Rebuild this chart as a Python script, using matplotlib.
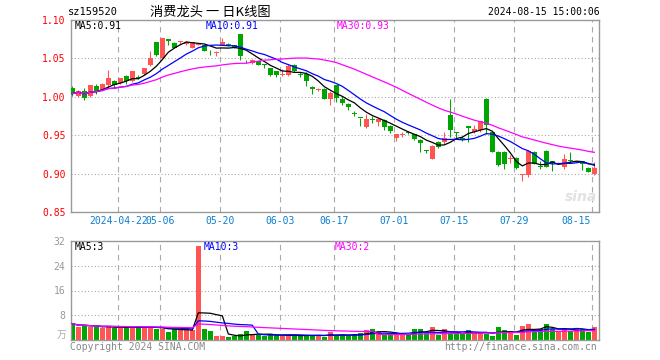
import numpy as np
import pandas as pd
import matplotlib
matplotlib.use("Agg")
import matplotlib.pyplot as plt
from matplotlib.transforms import blended_transform_factory

# ---- data (159520, daily, 2024-04-10 .. 2024-08-15) ----
opens = [
    1.012, 1.001, 1.008, 1.001, 1.014, 1.009, 1.015, 1.021, 1.018, 1.027,
    1.021, 1.026, 1.030, 1.041, 1.071, 1.050, 1.075, 1.070, 1.071, 1.069,
    1.064, 1.068, 1.068, 1.060, 1.057, 1.067, 1.069, 1.067, 1.082, 1.047,
    1.044, 1.047, 1.042, 1.037, 1.033, 1.028, 1.029, 1.041, 1.029, 1.030,
    1.013, 1.009, 1.010, 0.997, 1.015, 0.997, 0.991, 0.979, 0.973, 0.961,
    0.971, 0.967, 0.970, 0.962, 0.947, 0.950, 0.954, 0.951, 0.944, 0.930,
    0.919, 0.941, 0.941, 0.976, 0.954, 0.947, 0.962, 0.954, 0.957, 0.997,
    0.954, 0.928, 0.928, 0.919, 0.920, 0.898, 0.898, 0.928, 0.910, 0.930,
    0.916, 0.913, 0.908, 0.918, 0.915, 0.916, 0.907, 0.899]
closes = [
    1.004, 1.008, 0.998, 1.015, 1.008, 1.017, 1.025, 1.015, 1.024, 1.021,
    1.033, 1.025, 1.037, 1.050, 1.054, 1.076, 1.073, 1.064, 1.072, 1.072,
    1.071, 1.069, 1.060, 1.059, 1.058, 1.072, 1.068, 1.064, 1.053, 1.046,
    1.048, 1.042, 1.041, 1.028, 1.028, 1.029, 1.040, 1.034, 1.028, 1.021,
    1.010, 1.010, 0.997, 1.005, 0.999, 0.992, 0.987, 0.978, 0.972, 0.971,
    0.970, 0.971, 0.961, 0.955, 0.952, 0.951, 0.953, 0.945, 0.940, 0.929,
    0.936, 0.935, 0.947, 0.957, 0.953, 0.945, 0.959, 0.958, 0.968, 0.963,
    0.928, 0.911, 0.913, 0.920, 0.907, 0.899, 0.930, 0.913, 0.909, 0.909,
    0.915, 0.914, 0.919, 0.917, 0.916, 0.912, 0.902, 0.907]
highs = [
    1.014, 1.009, 1.011, 1.016, 1.017, 1.018, 1.035, 1.022, 1.025, 1.029,
    1.034, 1.028, 1.038, 1.059, 1.072, 1.077, 1.075, 1.071, 1.073, 1.073,
    1.072, 1.070, 1.069, 1.061, 1.060, 1.076, 1.070, 1.068, 1.082, 1.048,
    1.049, 1.048, 1.043, 1.038, 1.033, 1.036, 1.043, 1.043, 1.032, 1.032,
    1.014, 1.011, 1.011, 1.008, 1.016, 1.001, 0.992, 0.982, 0.973, 0.978,
    0.975, 0.972, 0.971, 0.963, 0.952, 0.954, 0.955, 0.952, 0.945, 0.931,
    0.937, 0.943, 0.954, 0.997, 0.954, 0.949, 0.962, 0.963, 0.968, 0.998,
    0.955, 0.929, 0.929, 0.924, 0.921, 0.899, 0.931, 0.929, 0.916, 0.931,
    0.917, 0.915, 0.926, 0.928, 0.917, 0.917, 0.908, 0.915]
lows = [
    1.001, 1.000, 0.996, 1.000, 1.004, 1.007, 1.012, 1.012, 1.017, 1.017,
    1.019, 1.023, 1.029, 1.040, 1.053, 1.049, 1.067, 1.064, 1.069, 1.068,
    1.064, 1.067, 1.059, 1.054, 1.053, 1.067, 1.066, 1.063, 1.048, 1.044,
    1.043, 1.041, 1.038, 1.027, 1.026, 1.027, 1.027, 1.032, 1.026, 1.014,
    1.003, 1.008, 0.997, 0.989, 0.993, 0.989, 0.983, 0.975, 0.962, 0.959,
    0.966, 0.962, 0.957, 0.953, 0.942, 0.948, 0.951, 0.944, 0.928, 0.927,
    0.919, 0.933, 0.939, 0.948, 0.947, 0.943, 0.941, 0.953, 0.954, 0.952,
    0.928, 0.910, 0.906, 0.914, 0.906, 0.891, 0.895, 0.912, 0.906, 0.909,
    0.904, 0.912, 0.906, 0.915, 0.915, 0.905, 0.902, 0.898]
# volume in 万 (10k)
volumes = [
    5.3, 4.3, 4.7, 4.2, 4.3, 3.8, 4.5, 3.9, 4.1, 4.2,
    4.2, 4.2, 4.1, 4.2, 3.7, 3.6, 2.6, 3.6, 3.4, 3.4,
    3.1, 30.4, 3.4, 2.9, 1.2, 1.2, 1.0, 1.4, 1.8, 2.8,
    1.7, 1.7, 1.3, 2.0, 1.5, 1.3, 1.5, 1.3, 1.5, 1.7,
    1.3, 1.7, 1.0, 2.5, 1.5, 1.7, 1.3, 1.5, 2.3, 3.1,
    3.7, 2.7, 1.7, 1.7, 1.7, 1.7, 1.9, 3.7, 3.7, 2.3,
    4.1, 1.5, 3.4, 1.9, 1.9, 1.9, 3.1, 2.3, 2.6, 2.1,
    1.3, 4.1, 3.1, 2.8, 1.5, 4.4, 5.3, 3.1, 3.4, 5.3,
    3.4, 2.8, 3.4, 2.8, 3.4, 3.4, 2.5, 4.1]

date_ticks = ["2024-04-22", "2024-05-06", "2024-05-20", "2024-06-03", "2024-06-17",
              "2024-07-01", "2024-07-15", "2024-07-29", "2024-08-15"]
tick_labels = ["2024-04-22", "05-06", "05-20", "06-03", "06-17",
               "07-01", "07-15", "07-29", "08-15"]
holidays = ["2024-05-01", "2024-05-02", "2024-05-03", "2024-06-10"]
price_ticks = [0.85, 0.90, 0.95, 1.00, 1.05, 1.10]
vol_ticks = [8, 16, 24, 32]
price_ma_text = ["MA5:0.91", "MA10:0.91", "MA30:0.93"]
vol_ma_text = ["MA5:3", "MA10:3", "MA30:2"]

RED, GREEN = "#ff5555", "#00a600"
MA_COLORS = ["black", "#0000ff", "#ff00ff"]
GRID = "#aaaaaa"
W, H = 660, 360

plt.rcParams["font.family"] = ["DejaVu Sans Mono", "Noto Sans CJK SC"]

days = pd.bdate_range("2024-04-10", "2024-08-15")
days = days[~days.isin(pd.to_datetime(holidays))]
x = np.arange(len(days))
o, c, hi, lo = map(np.array, (opens, closes, highs, lows))
vol = np.array(volumes)
up = c >= o
colors = np.where(up, RED, GREEN)
grid_x = [days.get_loc(pd.Timestamp(d)) - 0.33 for d in date_ticks]
XLIM = (-0.22, len(x) - 0.22)

fig = plt.figure(figsize=(W / 100, H / 100), dpi=100)


def px_axes(l, t, r, b):
    return fig.add_axes([l / W, 1 - b / H, (r - l) / W, (b - t) / H])


def frame(a):
    for s in a.spines.values():
        s.set_color("#999999")
        s.set_linewidth(1.0)
    a.set_xlim(*XLIM)
    a.set_xticks([])
    for gx in grid_x:
        a.axvline(gx, color=GRID, lw=0.8, ls=(0, (5, 4)), zorder=0)


ax = px_axes(71, 20, 599, 212)
axv = px_axes(71, 241, 599, 340)
frame(ax)
frame(axv)

# price panel
ax.vlines(x, lo, hi, colors=colors, lw=0.75, zorder=2)
ax.bar(x, np.maximum(np.abs(c - o), 0.0012), bottom=np.minimum(o, c),
       width=0.75, color=colors, linewidth=0, zorder=3)
for n, col in zip([5, 10, 30], MA_COLORS):
    ax.plot(x, pd.Series(c).rolling(n, min_periods=1).mean(), color=col, lw=0.9, zorder=4)
for v in price_ticks[1:-1]:
    ax.axhline(v, color=GRID, lw=0.8, ls=(0, (1, 2)), zorder=0)
ax.set_ylim(price_ticks[0], price_ticks[-1])
ax.set_yticks(price_ticks, [f"{v:.2f}" for v in price_ticks])
ax.tick_params(axis="y", length=0, pad=4, labelsize=7, labelcolor="red")

tr = blended_transform_factory(ax.transData, ax.transAxes)
for i, (gx, lab) in enumerate(zip(grid_x, tick_labels)):
    last = i == len(tick_labels) - 1
    ax.text(gx - (0.3 if last else 0), -9 / 192, lab, transform=tr, fontsize=7,
            color="#0b7fd0", ha="right" if last else "center", va="center")

for xp, txt, col in zip([75, 206, 337], price_ma_text, MA_COLORS):
    fig.text(xp / W, 1 - 26 / H, txt, fontsize=7, color=col, va="center")
ax.text(0.965, 0.08, "sina", transform=ax.transAxes, fontsize=10, style="italic",
        fontweight="bold", color="#e2e2e2", ha="center", va="center",
        family="DejaVu Sans", zorder=1)

# volume panel
axv.bar(x, vol, width=0.78, color=colors, linewidth=0, zorder=2)
for n, col in zip([5, 10, 30], MA_COLORS):
    axv.plot(x, pd.Series(vol).rolling(n, min_periods=1).mean(), color=col, lw=0.9, zorder=4)
for v in vol_ticks[:-1]:
    axv.axhline(v, color=GRID, lw=0.8, ls=(0, (1, 2)), zorder=0)
axv.set_ylim(0, vol_ticks[-1])
axv.set_yticks(vol_ticks, [str(v) for v in vol_ticks])
axv.tick_params(axis="y", length=0, pad=4, labelsize=7, labelcolor="#999999")
fig.text(66 / W, 1 - 335 / H, "万", fontsize=7, color="#aaaaaa", ha="right", va="center")
for xp, txt, col in zip([75, 204, 335], vol_ma_text, MA_COLORS):
    fig.text(xp / W, 1 - 247 / H, txt, fontsize=7, color=col, va="center")

# header / footer
fig.text(68 / W, 1 - 12 / H, "sz159520", fontsize=7.5, va="center")
fig.text(150 / W, 1 - 12 / H, "消费龙头 一 日K线图", fontsize=9.5, va="center",
         family=["Noto Sans CJK SC", "DejaVu Sans"])
fig.text(600 / W, 1 - 12 / H, "2024-08-15 15:00:06", fontsize=7, ha="right", va="center")
fig.text(70 / W, 1 - 347 / H, "Copyright 2024 SINA.COM", fontsize=7, color="#888888", va="center")
fig.text(597 / W, 1 - 347 / H, "http://finance.sina.com.cn", fontsize=7, color="#888888",
         ha="right", va="center")

fig.savefig("out.png", dpi=100)
